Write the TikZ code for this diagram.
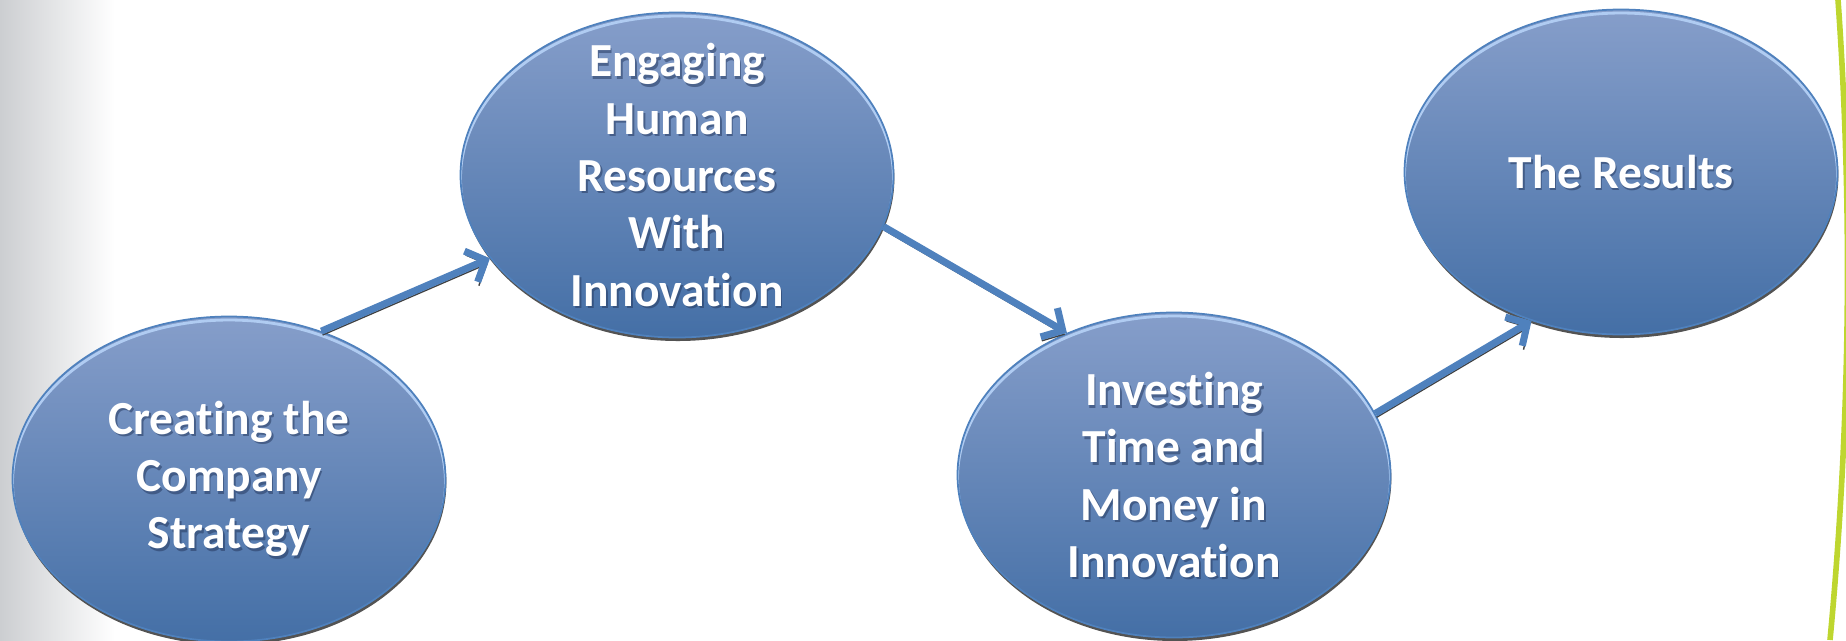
\documentclass[tikz,border=0pt]{standalone}
\usepackage{fontspec}
\setmainfont{Carlito}[Ligatures=NoCommon]
\usetikzlibrary{shapes.geometric,arrows.meta,shadows}

\definecolor{ovaltop}{RGB}{134,158,202}
\definecolor{ovalbot}{RGB}{68,111,166}
\definecolor{rimblue}{RGB}{79,129,189}
\definecolor{rimlight}{RGB}{176,204,242}
\definecolor{textshade}{RGB}{38,58,96}
\definecolor{edgegray}{RGB}{204,206,209}
\definecolor{lime}{RGB}{190,214,47}

\begin{document}
\begin{tikzpicture}[x=0.1mm, y=-0.1mm,
    oval/.style={ellipse, draw=rimblue, line width=0.5pt, minimum width=4.33cm, minimum height=3.25cm, inner sep=0pt,
        top color=ovaltop, bottom color=ovalbot,
        drop shadow={shadow xshift=0.25pt, shadow yshift=-1pt, fill=black!75, opacity=0.9},
        path picture={\draw[rimlight, line width=0.8pt] ([yshift=-1pt]path picture bounding box.center) ellipse [x radius=2.165cm, y radius=1.625cm];},
        label={[ovalshade]center:#1}, label={[ovaltext]center:#1}},
    ovaltext/.style={text=white, align=center, font=\bfseries\fontsize{13.5}{16.3}\selectfont},
    ovalshade/.style={ovaltext, text=textshade, opacity=0.55, xshift=0.5pt, yshift=-0.7pt},
    link/.style={draw=rimblue, line width=2pt, -{Straight Barb[length=4.5pt, width=9.5pt]},
        preaction={draw=black!75, transform canvas={xshift=0.35pt, yshift=-1.1pt}}}
]
    \useasboundingbox (0,0) rectangle (1846,640);

    % backdrop
    \fill[left color=edgegray, right color=white] (0,0) rectangle (115,640);
    \draw[lime, line width=1.6pt] (1838,0) .. controls (1853,213) and (1850,427) .. (1830,640);

    % the four stages
    \node[oval={Creating the\\Company\\Strategy}] (strategy) at (229,479) {};
    \node[oval={Engaging\\Human\\Resources\\With\\Innovation}] (people) at (677,175) {};
    \node[oval={Investing\\Time and\\Money in\\Innovation}] (invest) at (1174,475) {};
    \node[oval={The Results}] (results) at (1621,172) {};

    % links between stages
    \draw[link] (strategy.58) -- (people.204);
    \draw[link] (people.-14) -- (invest.127);
    \draw[link] (invest.17) -- (results.239);
\end{tikzpicture}
\end{document}
